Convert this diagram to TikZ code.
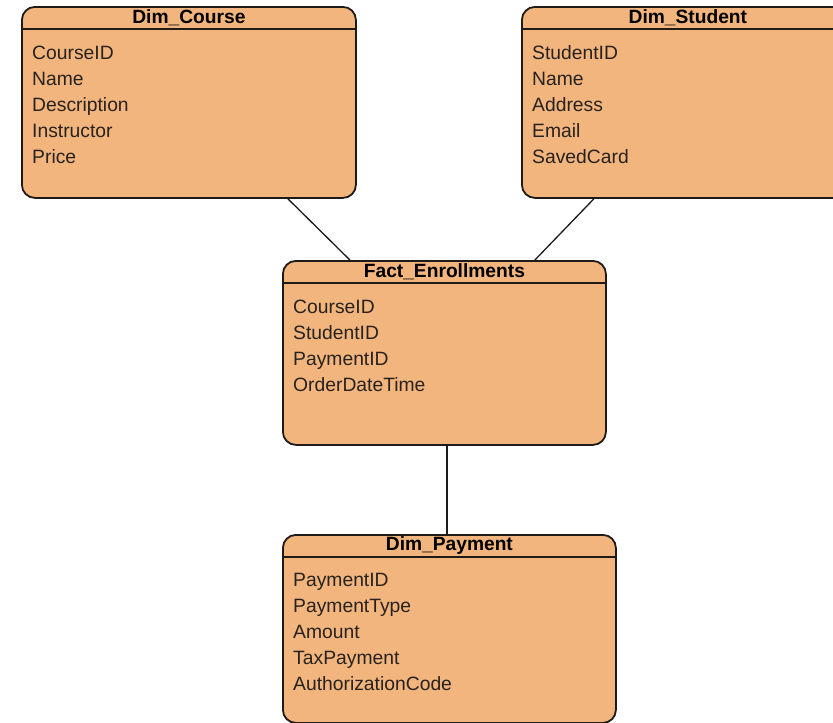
\documentclass[tikz,border=0pt]{standalone}
\usepackage{fontspec}
\setmainfont{Liberation Sans}
\usetikzlibrary{calc}
\definecolor{tblfill}{RGB}{242,181,125}
\definecolor{tbldraw}{RGB}{30,26,24}
\definecolor{txt}{RGB}{40,34,30}
\tikzset{
  tbl/.style={draw=tbldraw, fill=tblfill, line width=1.8pt, rounded corners=13pt,
    anchor=north west, inner sep=0pt},
  hdrline/.style={draw=tbldraw, line width=1.3pt},
  ttl/.style={inner sep=0pt, font=\fontsize{19.2}{19.2}\selectfont\bfseries, text=black},
  item/.style={anchor=base west, inner sep=0pt, font=\fontsize{19.3}{19.3}\selectfont, text=txt},
  link/.style={draw=tbldraw, line width=1.3pt}
}
\begin{document}
\begin{tikzpicture}[x=1pt,y=-1pt]
\useasboundingbox (0,0) rectangle (833,723);
\clip (0,0) rectangle (833,723);
\fill[white] (0,0) rectangle (833,723);

% tables
\node[tbl, minimum width=334pt, minimum height=191pt] (course) at (21,6) {};
\node[tbl, minimum width=332pt, minimum height=191pt] (student) at (521,6) {};
\node[tbl, minimum width=323pt, minimum height=184pt] (fact) at (282,260) {};
\node[tbl, minimum width=333pt, minimum height=188pt] (payment) at (282,534) {};

% connectors
\draw[link] ([xshift=99pt]course.south) -- ([xshift=-94.5pt]fact.north);
\draw[link] ([xshift=-94pt]student.south) -- ([xshift=90.5pt]fact.north);
\draw[link] ([xshift=2.5pt]fact.south) -- ([xshift=-2.5pt]payment.north);

% header lines
\foreach \t in {course,student,fact,payment}
  \draw[hdrline] ([yshift=-23pt]\t.north west) -- ([yshift=-23pt]\t.north east);

% titles
\node[ttl] (course-t) at ([yshift=-12pt]course.north) {Dim\_Course};
\node[ttl] (student-t) at ([yshift=-12pt]student.north) {Dim\_Student};
\node[ttl] (fact-t) at ([yshift=-11.5pt]fact.north) {Fact\_Enrollments};
\node[ttl] (payment-t) at ([yshift=-12pt]payment.north) {Dim\_Payment};

% items
\foreach \s [count=\i] in {CourseID,Name,Description,Instructor,Price}
  \node[item, name=course-\i] at ([xshift=11pt,yshift={-27.5pt-26pt*\i}]course.north west) {\s};
\foreach \s [count=\i] in {StudentID,Name,Address,Email,SavedCard}
  \node[item, name=student-\i] at ([xshift=11pt,yshift={-27.5pt-26pt*\i}]student.north west) {\s};
\foreach \s [count=\i] in {CourseID,StudentID,PaymentID,OrderDateTime}
  \node[item, name=fact-\i] at ([xshift=11pt,yshift={-27.5pt-26pt*\i}]fact.north west) {\s};
\foreach \s [count=\i] in {PaymentID,PaymentType,Amount,TaxPayment,AuthorizationCode}
  \node[item, name=payment-\i] at ([xshift=11pt,yshift={-26.5pt-26pt*\i}]payment.north west) {\s};
\end{tikzpicture}
\end{document}
